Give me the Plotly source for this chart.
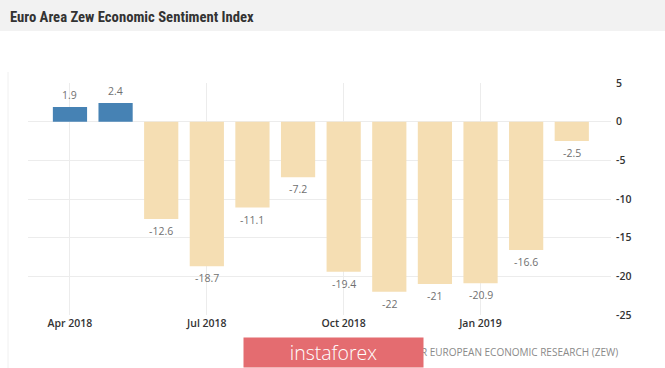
import plotly.graph_objects as go

months = ["Apr 2018", "May 2018", "Jun 2018", "Jul 2018", "Aug 2018", "Sep 2018",
          "Oct 2018", "Nov 2018", "Dec 2018", "Jan 2019", "Feb 2019", "Mar 2019"]
values = [1.9, 2.4, -12.6, -18.7, -11.1, -7.2, -19.4, -22, -21, -20.9, -16.6, -2.5]
tick_labels = ["Apr 2018", "Jul 2018", "Oct 2018", "Jan 2019"]
y_ticks = [5, 0, -5, -10, -15, -20, -25]
title = "Euro Area Zew Economic Sentiment Index"
source = "SOURCE: CENTRE FOR EUROPEAN ECONOMIC RESEARCH (ZEW)"

W, H = 665, 368
L, R, T, B = 28, 611, 83, 315

def px_x(p):
    return (p - L) / (R - L)

def px_y(p):
    return (B - p) / (B - T)

xs = list(range(len(months)))
colors = ["#4682B4" if v >= 0 else "#F5DEB3" for v in values]

fig = go.Figure()
fig.add_trace(go.Bar(x=xs, y=values, marker=dict(color=colors, line=dict(width=0)),
                     width=0.75, hoverinfo="skip"))

annotations = []
for i, v in enumerate(values):
    annotations.append(dict(
        x=i, y=v, xref="x", yref="y", text=f"{v:g}", showarrow=False,
        yanchor="bottom" if v >= 0 else "top", yshift=3 if v >= 0 else -3,
        font=dict(family="Open Sans", size=10.5, color="#707070")))

annotations.append(dict(
    x=px_x(8), y=px_y(17), xref="paper", yref="paper", text=title, showarrow=False,
    xanchor="left", yanchor="middle",
    font=dict(family="Liberation Sans Narrow, Roboto Condensed, Liberation Sans, Arial",
              size=14.7, color="#333333", weight="bold")))
annotations.append(dict(
    x=px_x(620), y=px_y(352), xref="paper", yref="paper", text=source, showarrow=False,
    xanchor="right", yanchor="middle",
    font=dict(family="Open Sans", size=10, color="#8a8a8a")))
annotations.append(dict(
    x=px_x(333.5), y=px_y(352.5), xref="paper", yref="paper", text="instaforex",
    showarrow=False, xanchor="center", yanchor="middle",
    width=179, height=29, bgcolor="#e46c70", borderpad=0,
    font=dict(family="Open Sans", size=19.5, color="#ffffff", weight=300)))

shapes = [
    dict(type="rect", xref="paper", yref="paper", x0=px_x(0), x1=px_x(W),
         y0=px_y(31), y1=px_y(0), fillcolor="#f2f2f2", line=dict(width=0), layer="below"),
    dict(type="line", xref="paper", yref="paper", x0=px_x(8), x1=px_x(8),
         y0=px_y(H), y1=px_y(72), line=dict(color="#f0f0f0", width=1), layer="below"),
]

fig.update_layout(
    width=W, height=H,
    margin=dict(l=L, r=W - R, t=T, b=H - B, pad=0),
    paper_bgcolor="#ffffff", plot_bgcolor="#ffffff",
    showlegend=False, bargap=0.25,
    annotations=annotations, shapes=shapes,
    xaxis=dict(range=[-0.92, 11.86], tickmode="array", tickvals=[0, 3, 6, 9],
               ticktext=tick_labels, showgrid=True, gridcolor="#ececec", gridwidth=1,
               zeroline=False, showline=False, ticks="",
               tickfont=dict(family="Open Sans", size=10.5, color="#333333", weight=600)),
    yaxis=dict(range=[-25, 5], side="right", tickmode="array", tickvals=y_ticks,
               ticktext=[str(t) for t in y_ticks],
               showgrid=True, gridcolor="#ececec", gridwidth=1,
               zeroline=True, zerolinecolor="#ececec", zerolinewidth=1,
               showline=False, ticks="", ticklabelstandoff=4,
               tickfont=dict(family="Open Sans", size=10.5, color="#333333", weight=600)),
)

fig.write_html("out.html", config={"displayModeBar": False},
               post_script="document.body.style.margin='0';"
                           "document.documentElement.style.overflow='hidden';")
